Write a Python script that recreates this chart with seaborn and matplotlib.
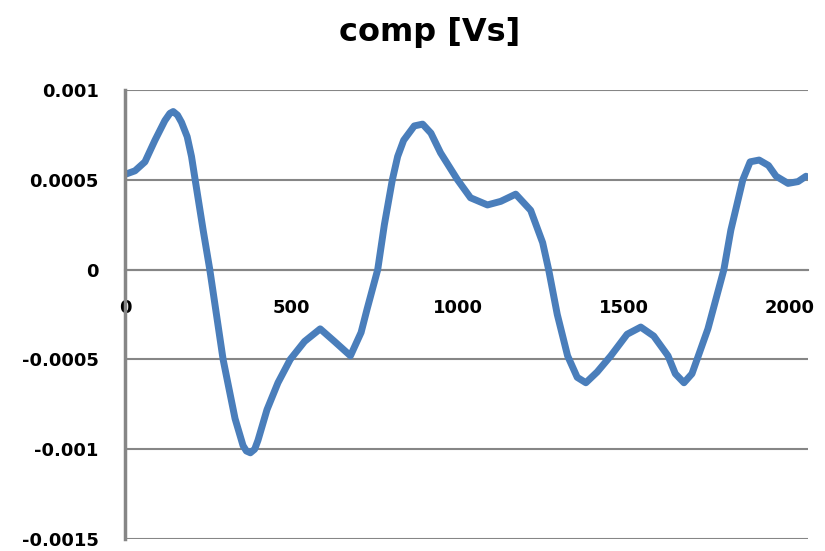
import matplotlib
matplotlib.use("Agg")
import matplotlib.pyplot as plt
import seaborn as sns
import pandas as pd

sample = [0, 30, 60, 90, 120, 135, 145, 158, 170, 187, 200, 211, 235, 255, 295,
          331, 355, 365, 377, 390, 400, 427, 460, 497, 540, 587, 630, 678, 710,
          728, 760, 780, 804, 820, 838, 870, 895, 920, 949, 1000, 1039, 1090,
          1130, 1175, 1220, 1256, 1274, 1300, 1331, 1360, 1386, 1420, 1461,
          1510, 1551, 1590, 1633, 1655, 1681, 1705, 1730, 1753, 1801, 1822,
          1858, 1880, 1907, 1935, 1958, 1994, 2024, 2048]
comp = [0.00053, 0.00055, 0.0006, 0.00072, 0.00083, 0.00087, 0.00088, 0.00086,
        0.00082, 0.00074, 0.00063, 0.0005, 0.00022, 0.0, -0.0005, -0.00083,
        -0.00098, -0.00101, -0.00102, -0.001, -0.00095, -0.00078, -0.00063,
        -0.0005, -0.0004, -0.00033, -0.0004, -0.00048, -0.00035, -0.00022, 0.0,
        0.00025, 0.0005, 0.00063, 0.00072, 0.0008, 0.00081, 0.00076, 0.00065,
        0.0005, 0.0004, 0.00036, 0.00038, 0.00042, 0.00033, 0.00015, 0.0,
        -0.00025, -0.00048, -0.0006, -0.00063, -0.00057, -0.00048, -0.00036,
        -0.00032, -0.00037, -0.00048, -0.00058, -0.00063, -0.00058, -0.00045,
        -0.00033, 0.0, 0.00022, 0.0005, 0.0006, 0.00061, 0.00058, 0.00052,
        0.00048, 0.00049, 0.00052]
x_ticks = [0, 500, 1000, 1500, 2000]
y_ticks = [-0.0015, -0.001, -0.0005, 0, 0.0005, 0.001]
y_labels = ["-0.0015", "-0.001", "-0.0005", "0", "0.0005", "0.001"]
title = "comp [Vs]"

df = pd.DataFrame({"sample": sample, "comp": comp})

sns.set_style("white")
plt.rcParams["font.family"] = ["DejaVu Sans"]
plt.rcParams["text.color"] = "black"
plt.rcParams["xtick.labelcolor"] = "black"
plt.rcParams["ytick.labelcolor"] = "black"

fig = plt.figure(figsize=(8.25, 5.51), dpi=100)
ax = fig.add_axes([125 / 825, 1 - 539 / 551, (808 - 125) / 825, (539 - 90) / 551])

grid_c = "#868686"
for yv in y_ticks:
    ax.axhline(yv, color=grid_c, lw=1.5, zorder=1)

sns.lineplot(data=df, x="sample", y="comp", ax=ax, color="#4A7EBB", lw=5,
             sort=False, estimator=None, zorder=3,
             solid_joinstyle="round", solid_capstyle="round")

ax.set_xlim(0, 2054)
ax.set_ylim(-0.0015, 0.001)
ax.set_xticks(x_ticks)
ax.set_xticklabels([str(v) for v in x_ticks])
ax.set_yticks(y_ticks)
ax.set_yticklabels(y_labels)
ax.set_xlabel("")
ax.set_ylabel("")

for s in ["top", "right"]:
    ax.spines[s].set_visible(False)
ax.spines["bottom"].set_position(("data", 0))
ax.spines["bottom"].set_color(grid_c)
ax.spines["bottom"].set_linewidth(1.5)
ax.spines["left"].set_color(grid_c)
ax.spines["left"].set_linewidth(2.5)
ax.spines["left"].set_zorder(4)

ax.tick_params(axis="y", direction="out", length=7, width=1.5, color=grid_c,
               labelsize=13, pad=12, labelcolor="black")
ax.tick_params(axis="x", direction="out", length=7, width=1.5, color=grid_c,
               labelsize=13, pad=14, labelcolor="black")
for lab in ax.get_xticklabels() + ax.get_yticklabels():
    lab.set_fontweight("bold")

fig.text(430 / 825, 1 - 33 / 551, title, ha="center", va="center",
         fontsize=23, fontweight="bold", color="black")

fig.savefig("out.png", dpi=100, facecolor="white")
